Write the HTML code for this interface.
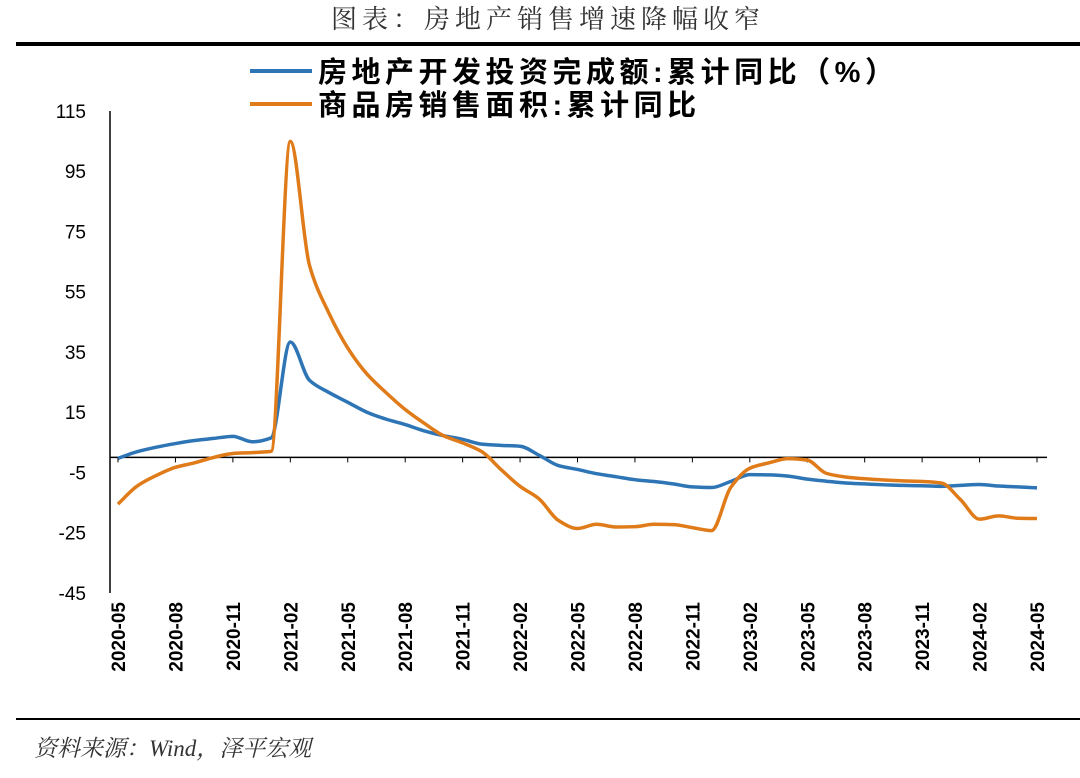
<!DOCTYPE html>
<html><head><meta charset="utf-8"><style>
body{margin:0;width:1080px;height:773px;background:#fff;overflow:hidden;font-family:"Liberation Sans","Noto Sans CJK SC",sans-serif}
</style></head><body>
<svg id="chart" width="1080" height="773">
<text x="548" y="28" text-anchor="middle" font-size="26" letter-spacing="5" fill="#333" font-family="'Liberation Serif','Noto Serif CJK SC',serif">图表：房地产销售增速降幅收窄</text>
<rect x="16" y="42" width="1064" height="4" fill="#000"/>
<g>
<line x1="250" y1="71" x2="312" y2="71" stroke="#2e75b6" stroke-width="4"/>
<text x="318" y="82" font-size="29" letter-spacing="4.5" font-weight="bold" fill="#000">房地产开发投资完成额:累计同比（%）</text>
<line x1="250" y1="104" x2="312" y2="104" stroke="#e07b1a" stroke-width="4"/>
<text x="318" y="115" font-size="29" letter-spacing="4.5" font-weight="bold" fill="#000">商品房销售面积:累计同比</text>
</g>
<g id="axes"></g>
<g id="series"></g>
<rect x="16" y="718" width="1064" height="2" fill="#000"/>
<text x="34" y="756" font-size="23" font-style="italic" fill="#333" font-family="'Liberation Serif','Noto Serif CJK SC',serif">资料来源：Wind，泽平宏观</text>
</svg>
<script>
const yTicks=[115,95,75,55,35,15,-5,-25,-45];
const xLabels=["2020-05","2020-08","2020-11","2021-02","2021-05","2021-08","2021-11","2022-02","2022-05","2022-08","2022-11","2023-02","2023-05","2023-08","2023-11","2024-02","2024-05"];
const investment=[-0.3,1.9,3.4,4.6,5.6,6.3,7.0,5.2,6.5,38.3,25.6,21.6,18.3,15.0,12.7,10.9,8.8,7.2,6.0,4.4,4.0,3.7,0.7,-2.7,-4.0,-5.4,-6.4,-7.4,-8.0,-8.8,-9.8,-10.0,-8.0,-5.7,-5.8,-6.2,-7.2,-7.9,-8.5,-8.8,-9.1,-9.3,-9.4,-9.6,-9.3,-9.0,-9.5,-9.8,-10.1];
const sales=[-15.5,-9.5,-6.0,-3.3,-1.8,0,1.3,1.6,2.0,104.9,63.8,48.1,36.3,27.7,21.5,15.9,11.3,7.2,4.8,1.9,-4.0,-9.6,-13.8,-20.9,-23.6,-22.2,-23.1,-23.0,-22.2,-22.3,-23.3,-24.3,-10.0,-3.6,-1.8,-0.4,-0.9,-5.3,-6.5,-7.1,-7.5,-7.8,-8.0,-8.5,-14.0,-20.5,-19.4,-20.2,-20.3];
const NS="http://www.w3.org/2000/svg";
const x0=118,dx=(1037-118)/48;
const X=i=>x0+i*dx;
const Y=v=>457.4-v*3.0125;
function mk(t,a,p){const e=document.createElementNS(NS,t);for(const k in a)e.setAttribute(k,a[k]);p.appendChild(e);return e;}
const ax=document.getElementById('axes');
const yl=mk('line',{x1:110,y1:Y(115),x2:110,y2:Y(-45),stroke:'#000','stroke-width':1.5},ax);


const xl=mk('line',{x1:110,y1:Y(0),x2:1047,y2:Y(0),stroke:'#000','stroke-width':1.5},ax);


yTicks.forEach(v=>{
 const t=mk('text',{x:86,y:Y(v)+7,'text-anchor':'end','font-size':19,fill:'#000'},ax);t.textContent=v;
 
 
});
xLabels.forEach((s,k)=>{
 const i=k*3;
 const tk=mk('line',{x1:X(i),y1:Y(0),x2:X(i),y2:Y(0)+5,stroke:'#000'},ax);
 
 
 const t=mk('text',{x:X(i)+7,y:602,'text-anchor':'end','font-size':19,'font-weight':'bold',fill:'#000',transform:`rotate(-90 ${X(i)+7} 602)`},ax);
 t.textContent=s;
 
 
});
function path(d){
 const n=d.length,p=d.map((v,i)=>[X(i),Y(v)]);
 const del=[];for(let i=0;i<n-1;i++)del.push((p[i+1][1]-p[i][1])/dx);
 const m=[del[0]];
 for(let i=1;i<n-1;i++){m.push(del[i-1]*del[i]<=0?0:2/(1/del[i-1]+1/del[i]));}
 m.push(del[n-2]);
 let s=`M${p[0][0]},${p[0][1]}`;
 for(let i=0;i<n-1;i++){const h=dx/3;
  s+=` C${p[i][0]+h},${p[i][1]+m[i]*h} ${p[i+1][0]-h},${p[i+1][1]-m[i+1]*h} ${p[i+1][0]},${p[i+1][1]}`;}
 return s;
}
const sg=document.getElementById('series');
const l1=mk('path',{d:path(investment),fill:'none',stroke:'#2e75b6','stroke-width':3.5},sg);


const l2=mk('path',{d:path(sales),fill:'none',stroke:'#e07b1a','stroke-width':3.5},sg);


</script>
</body></html>
